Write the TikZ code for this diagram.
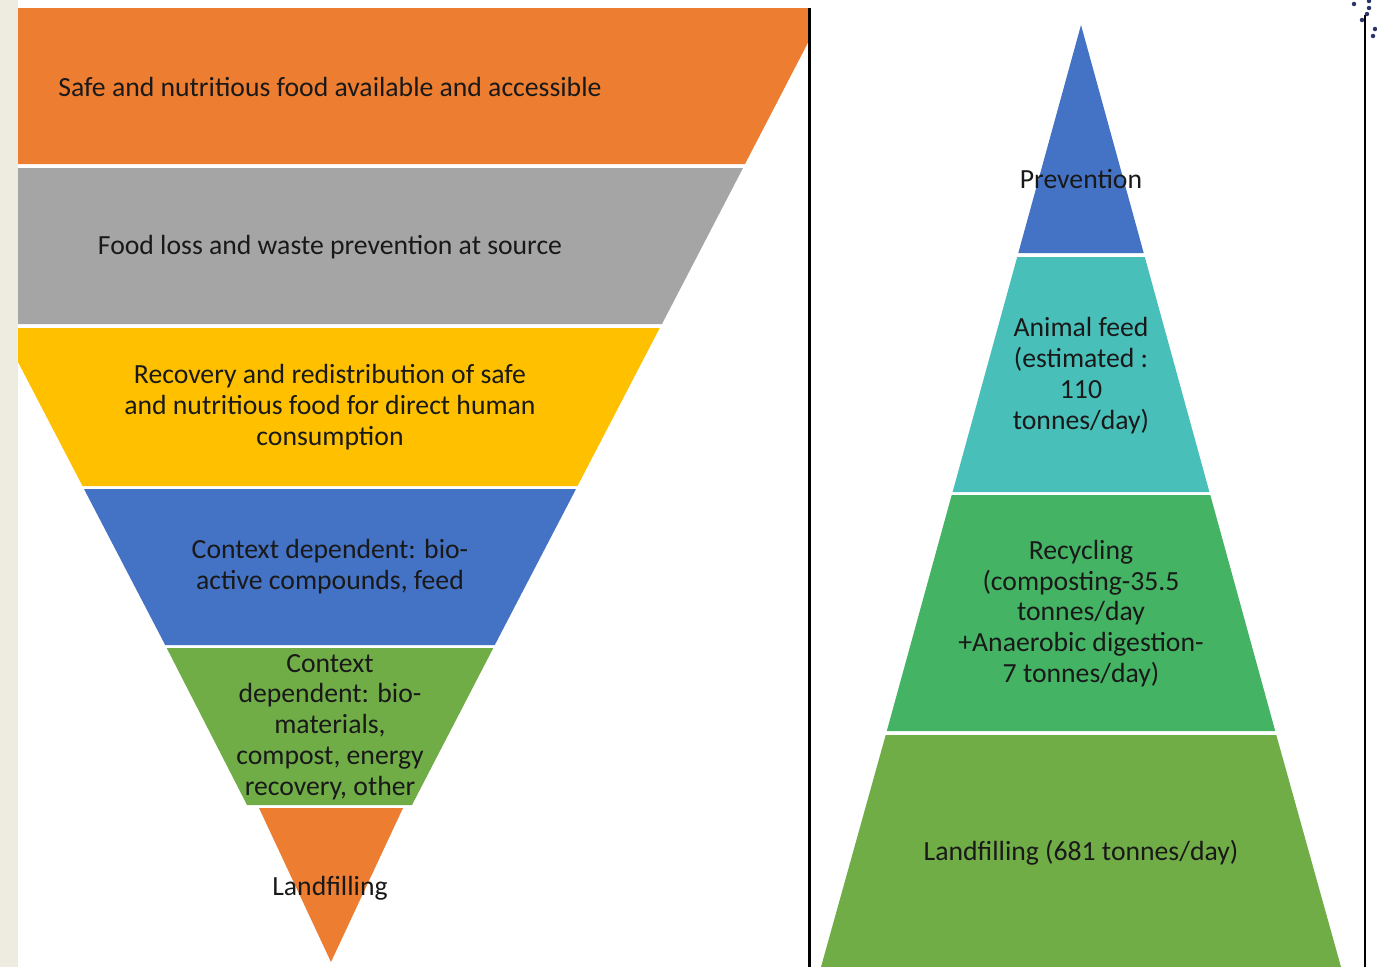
\documentclass[tikz,border=0pt]{standalone}
\usepackage{fontspec}
\setmainfont{Carlito}
\definecolor{cOrange}{HTML}{ED7D31}
\definecolor{cGray}{HTML}{A5A5A5}
\definecolor{cYellow}{HTML}{FFC000}
\definecolor{cBlue}{HTML}{4472C4}
\definecolor{cGreen}{HTML}{70AD47}
\definecolor{cTeal}{HTML}{48BFB9}
\definecolor{cMidGreen}{HTML}{44B364}
\definecolor{cBeige}{HTML}{EEECE1}
\definecolor{cNavy}{HTML}{2A3466}
\begin{document}
\begin{tikzpicture}[x=1pt,y=-1pt,
  lbl/.style={align=center,font=\fontsize{27.7}{30.8}\selectfont,text=black!90,inner sep=0pt},
  divider/.style={line width=2.2pt,black},
  dot/.style={circle,fill=cNavy,inner sep=0pt,minimum size=4.5pt}]
\useasboundingbox (0,0) rectangle (1377,967);
\fill[white] (0,0) rectangle (1377,967);
\fill[cBeige] (0,0) rectangle (18,967);
% left inverted pyramid
\begin{scope}
\clip (18,0) rectangle (808,967);
\fill[cOrange] (-166,8) -- (826,8) -- (745,164) -- (-85,164) -- cycle;
\fill[cGray] (-83,168) -- (743,168) -- (662,324) -- (-2,324) -- cycle;
\fill[cYellow] (0.3,328) -- (659.7,328) -- (577.5,486) -- (82.5,486) -- cycle;
\fill[cBlue] (84,489) -- (576,489) -- (494.8,645) -- (165.2,645) -- cycle;
\fill[cGreen] (166.7,648) -- (493.3,648) -- (412,805) -- (247,805) -- cycle;
\fill[cOrange] (259,808) -- (403,808) -- (331,962) -- cycle;
\end{scope}
% right pyramid
\fill[cBlue] (1081,25) -- (1143.7,253) -- (1018.3,253) -- cycle;
\fill[cTeal] (1017.2,257) -- (1144.8,257) -- (1209.4,492) -- (952.6,492) -- cycle;
\fill[cMidGreen] (951.7,495) -- (1210.3,495) -- (1275.2,731) -- (886.8,731) -- cycle;
\fill[cGreen] (885.7,735) -- (1276.3,735) -- (1341,967) -- (821,967) -- cycle;
% lines
\draw[divider] (809.5,8) -- (809.5,967);
\draw[divider] (1365,15) -- (1365,967);
% dots
\node[dot] (d1) at (1354,4) {};
\node[dot] (d2) at (1369,1) {};
\node[dot] (d3) at (1369,8) {};
\node[dot] (d4) at (1367,14) {};
\node[dot] (d5) at (1362,20) {};
\node[dot] (d6) at (1375,29) {};
\node[dot] (d7) at (1373,36) {};
% left labels
\node[lbl] (l1) at (330,87) {Safe and nutritious food available and accessible};
\node[lbl] (l2) at (330,247) {Food loss and waste prevention at source};
\node[lbl] (l3) at (330,407) {Recovery and redistribution of safe\\and nutritious food for direct human\\consumption};
\node[lbl] (l4) at (330,567) {Context dependent: bio-\\active compounds, feed};
\node[lbl] (l5) at (330,727) {Context\\dependent: bio-\\materials,\\compost, energy\\recovery, other};
\node[lbl] (l6) at (330,888) {Landfilling};
% right labels
\node[lbl] (r1) at (1081,179) {Prevention};
\node[lbl] (r2) at (1081,375.5) {Animal feed\\(estimated :\\110\\tonnes/day)};
\node[lbl] (r3) at (1081,613.5) {Recycling\\(composting-35.5\\tonnes/day\\+Anaerobic digestion-\\7 tonnes/day)};
\node[lbl] (r4) at (1081,853) {Landfilling (681 tonnes/day)};
\end{tikzpicture}
\end{document}
